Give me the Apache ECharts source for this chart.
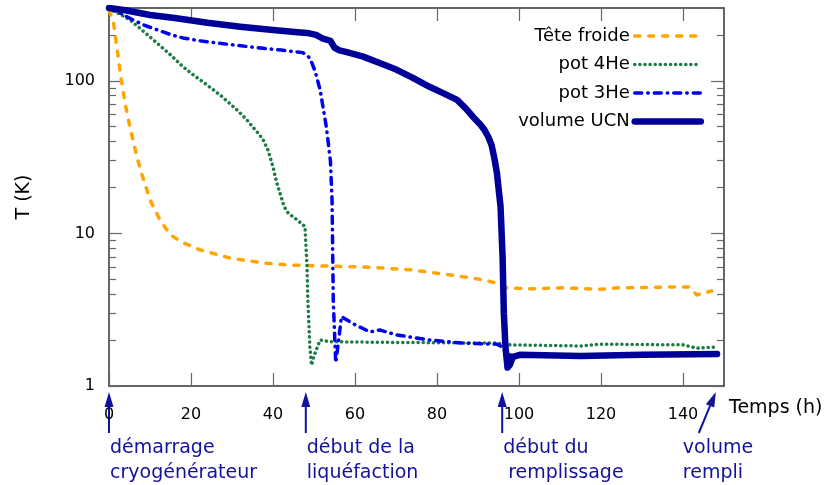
<!DOCTYPE html>
<html><head><meta charset="utf-8">
<script src="https://cdn.jsdelivr.net/npm/echarts@6/dist/echarts.min.js"></script>
<style>html,body{margin:0;padding:0;background:#fff}#c{width:834px;height:485px}</style>
</head><body><div id="c"></div>
<script>
// ---- data ----
const seriesNames = ['Tête froide', 'pot 4He', 'pot 3He', 'volume UCN'];

const teteH = [0, 1, 2, 3, 4, 5, 6, 7, 8, 9, 10, 12.4, 14.9, 18, 22.2, 29.5, 37.6, 44, 54, 63.7, 74, 83, 90.5, 94.6, 97, 102.7, 110.7, 119.8, 124, 140, 141.5, 143.4, 147];
const teteT = [290, 251, 160, 101, 69.6, 51.5, 39.2, 30.3, 24.5, 20.2, 16.6, 12.3, 9.8, 8.7, 7.8, 6.9, 6.4, 6.2, 6.1, 6.0, 5.76, 5.35, 5.0, 4.73, 4.4, 4.33, 4.4, 4.3, 4.4, 4.46, 4.45, 3.95, 4.2];

const he4H = [0, 2.5, 5.1, 8.5, 11.7, 15, 18, 21, 23.9, 27.5, 31.2, 33.5, 35, 36.5, 37.6, 38.8, 40, 40.8, 41.7, 42.7, 43.7, 45.8, 47.8, 48.3, 48.5, 49, 49.4, 49.9, 51.5, 53.9, 70, 94.6, 97.8, 115, 119.8, 140, 143.4, 147.8];
const he4T = [295, 275, 251, 210, 177, 148, 124, 107, 94, 79, 64.5, 56, 50, 45, 41, 35, 27.3, 22, 18.4, 15, 13.6, 12.3, 11.1, 6.0, 3.66, 1.8, 1.37, 1.55, 2.0, 1.95, 1.93, 1.91, 1.86, 1.83, 1.88, 1.86, 1.77, 1.8];

const he3H = [0, 3, 5.8, 8.5, 11.7, 15, 18, 22, 26.3, 31, 36, 42, 47.3, 49, 50.3, 51.5, 53, 54, 54.4, 54.7, 55.3, 55.8, 56.7, 59.6, 63.7, 66, 70.2, 78.3, 86.3, 94.6, 96, 97, 98.5, 100, 115, 130, 148];
const he3T = [300, 275, 251, 232, 216, 201, 191, 183, 177, 171, 165, 159, 153, 141, 115, 87, 50, 30, 16.6, 3.66, 1.42, 1.8, 2.85, 2.55, 2.26, 2.33, 2.16, 2.0, 1.91, 1.88, 1.8, 1.62, 1.58, 1.58, 1.58, 1.6, 1.62];

const ucnH = [0, 4, 10, 16, 24, 32, 40, 46, 48.3, 50.5, 52, 54, 55, 56, 58, 62, 66, 70.2, 74, 78.3, 81.5, 84.9, 87, 88.8, 90.5, 91.5, 92.5, 93.3, 94, 94.6, 95.5, 96.0, 96.3, 96.7, 97.2, 97.8, 98.5, 100.2, 115, 130, 148.3];
const ucnT = [300, 290, 270, 258, 240, 226, 215, 208, 206, 200, 190, 183, 165, 159, 154, 144, 131, 118, 105, 91, 83, 75, 66, 58, 52, 48, 43, 38, 31, 25, 15, 7, 3, 1.8, 1.32, 1.38, 1.55, 1.6, 1.57, 1.6, 1.62];

const xTicks = [0, 20, 40, 60, 80, 100, 120, 140];
const yMajor = [1, 10, 100];
const yMinor = [2, 3, 4, 5, 6, 7, 8, 9, 20, 30, 40, 50, 60, 70, 80, 90, 200, 300];

const annotHours = [0, 48, 95.9, 148];
const annotLabels = [['démarrage', 'cryogénérateur'], ['début de la', 'liquéfaction'], ['début du', 'remplissage'], ['volume', 'rempli']];

// ---- chart ----
const zip = (a, b) => a.map((v, i) => [v, b[i]]);
const FONT = 'DejaVu Sans';
const chart = echarts.init(document.getElementById('c'), null, {renderer: 'canvas'});
const axisLineStyle = {color: '#333', width: 1.5};
const tickStyle = {color: '#666', width: 1.2};

function yAx(pos, minor, labels) {
  return {
    type: 'log', logBase: 10, min: 1, max: 300, position: pos,
    name: (labels ? 'T (K)' : ''), nameLocation: 'middle', nameGap: 75,
    nameTextStyle: {fontFamily: FONT, fontSize: 19, color: '#000'},
    axisLine: {show: !minor, lineStyle: axisLineStyle},
    axisTick: {show: true, inside: true, length: minor ? 7 : 13, lineStyle: tickStyle,
      customValues: minor ? yMinor : yMajor},
    axisLabel: {show: !!labels, fontFamily: FONT, fontSize: 16, color: '#000', margin: 14,
      customValues: yMajor},
    splitLine: {show: false}, minorTick: {show: false}
  };
}

chart.setOption({
  animation: false,
  backgroundColor: '#fff',
  grid: {left: 109, right: 110, top: 8, bottom: 99},
  legend: {
    orient: 'vertical', right: 125, top: 22, align: 'right',
    itemWidth: 66, itemHeight: 14, itemGap: 10.5,
    itemStyle: {opacity: 0},
    lineStyle: {width: 'inherit', type: 'inherit', cap: 'inherit'},
    textStyle: {fontFamily: FONT, fontSize: 18, color: '#000'},
    data: seriesNames
  },
  xAxis: [{
    type: 'value', min: 0, max: 150, interval: 20, position: 'bottom',
    name: 'Temps (h)', nameLocation: 'end', nameGap: 5,
    nameTextStyle: {fontFamily: FONT, fontSize: 19, color: '#000', verticalAlign: 'top', padding: [13, 0, 0, 0]},
    axisLine: {lineStyle: axisLineStyle},
    axisTick: {inside: true, length: 13, lineStyle: tickStyle, customValues: xTicks},
    axisLabel: {fontFamily: FONT, fontSize: 16, color: '#000', margin: 21, customValues: xTicks},
    splitLine: {show: false}
  }, {
    type: 'value', min: 0, max: 150, interval: 20, position: 'top',
    axisLine: {lineStyle: axisLineStyle},
    axisTick: {inside: true, length: 13, lineStyle: tickStyle, customValues: xTicks},
    axisLabel: {show: false}, splitLine: {show: false}
  }],
  yAxis: [yAx('left', false, true), yAx('left', true, false), yAx('right', false, false), yAx('right', true, false)],
  series: [
    {name: seriesNames[0], type: 'line', symbol: 'none', data: zip(teteH, teteT), z: 2,
      lineStyle: {color: '#ffa500', width: 3.5, type: [5, 9], cap: 'round'}, itemStyle: {color: '#ffa500'}},
    {name: seriesNames[1], type: 'line', symbol: 'none', data: zip(he4H, he4T), z: 3,
      lineStyle: {color: '#1e7a46', width: 3.5, type: [0.1, 5], cap: 'round'}, itemStyle: {color: '#1e7a46'}},
    {name: seriesNames[2], type: 'line', symbol: 'none', data: zip(he3H, he3T), z: 4,
      lineStyle: {color: '#0000f0', width: 3.5, type: [7, 6, 0.5, 6], cap: 'round'}, itemStyle: {color: '#0000f0'}},
    {name: seriesNames[3], type: 'line', symbol: 'none', data: zip(ucnH, ucnT), z: 5,
      lineStyle: {color: '#000099', width: 6.5, cap: 'round', join: 'round'}, itemStyle: {color: '#000099'}}
  ]
});

// ---- annotations (arrows + text) positioned from axis scale ----
const base = chart.convertToPixel({xAxisIndex: 0, yAxisIndex: 0}, [0, 1]);
const yAxisPx = base[1];
const ANN = '#12129a';
const graphics = [];
annotHours.forEach((h, i) => {
  const px = chart.convertToPixel({xAxisIndex: 0}, h);
  const diag = i === 3;
  const tipX = px, tipY = yAxisPx + 6;
  const tailX = diag ? px - 17 : px, tailY = yAxisPx + 47;
  const ang = Math.atan2(tipY - tailY, tipX - tailX);
  const hl = 15, hw = 4.5;
  const bx = tipX - hl * Math.cos(ang), by = tipY - hl * Math.sin(ang);
  const nx = -Math.sin(ang), ny = Math.cos(ang);
  graphics.push({type: 'line', shape: {x1: tailX, y1: tailY, x2: bx, y2: by}, style: {stroke: ANN, lineWidth: 2}});
  graphics.push({type: 'polygon', shape: {points: [[tipX, tipY], [bx + nx * hw, by + ny * hw], [bx - nx * hw, by - ny * hw]]}, style: {fill: ANN}});
  const tx = diag ? tailX - 16 : px + 1;
  const dx2 = (i === 2) ? 5 : 0;
  graphics.push({type: 'text', x: tx, y: yAxisPx + 62, style: {text: annotLabels[i][0], fill: ANN, font: '19px "DejaVu Sans"', textAlign: 'left', textVerticalAlign: 'middle'}});
  graphics.push({type: 'text', x: tx + dx2, y: yAxisPx + 87, style: {text: annotLabels[i][1], fill: ANN, font: '19px "DejaVu Sans"', textAlign: 'left', textVerticalAlign: 'middle'}});
});
chart.setOption({graphic: graphics});
</script>
</body></html>
